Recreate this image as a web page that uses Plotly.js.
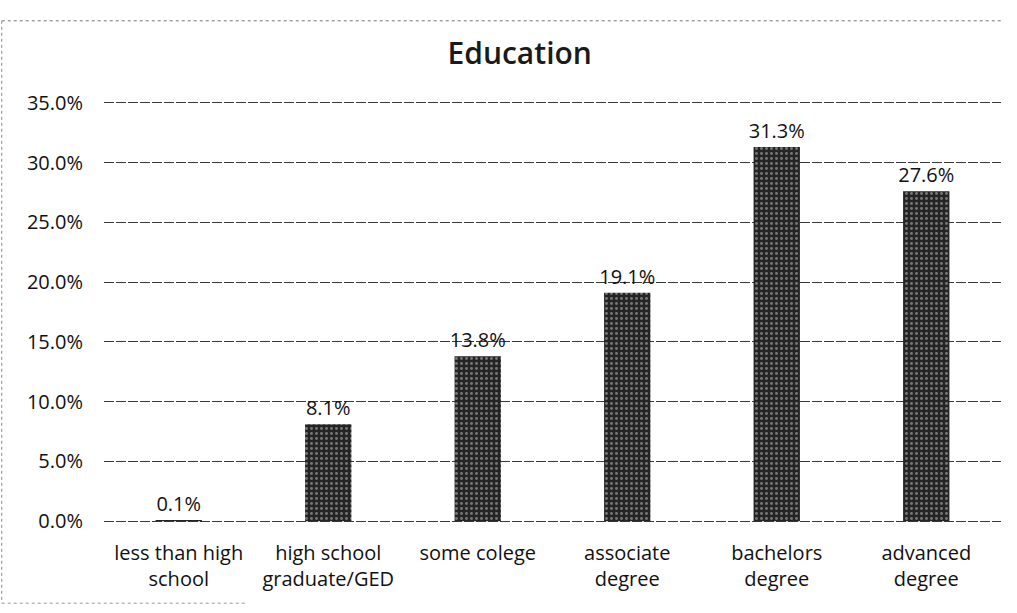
<!DOCTYPE html>
<html>
<head>
<meta charset="utf-8">
<script src="https://cdn.plot.ly/plotly-3.0.1.min.js"></script>
<style>html,body{margin:0;padding:0;background:#fff;}#chart{width:1017px;height:613px;}</style>
</head>
<body>
<div id="chart"></div>
<script>
const categories = ["less than high<br>school", "high school<br>graduate/GED", "some colege", "associate<br>degree", "bachelors<br>degree", "advanced<br>degree"];
const values = [0.1, 8.1, 13.8, 19.1, 31.3, 27.6];
const yTickValues = [0, 5, 10, 15, 20, 25, 30, 35];
const yTickLabels = ["0.0%", "5.0%", "10.0%", "15.0%", "20.0%", "25.0%", "30.0%", "35.0%"];
const chartTitle = "Education";

const FONT = "'Open Sans', 'Noto Sans', sans-serif";

const trace = {
  type: "bar",
  x: categories,
  y: values,
  width: 0.31,
  marker: {
    color: "#2a2a2a",
    line: {width: 0},
    pattern: {shape: ".", fgcolor: "#c8c8c8", bgcolor: "#242424", size: 5, solidity: 0.28, fillmode: "overlay"}
  },
  text: values.map(v => v.toFixed(1) + "%"),
  textposition: "outside",
  constraintext: "none",
  textfont: {family: FONT, size: 20, color: "#111"},
  cliponaxis: false,
  hoverinfo: "x+y"
};

const layout = {
  width: 1017,
  height: 613,
  margin: {l: 104, r: 16, t: 101, b: 90},
  paper_bgcolor: "#fff",
  plot_bgcolor: "#fff",
  showlegend: false,
  bargap: 0.69,
  title: {
    text: chartTitle,
    font: {family: FONT, size: 30, color: "#1a1a1a", weight: 600},
    x: 0.511, xanchor: "center",
    y: 0.913, yanchor: "middle"
  },
  xaxis: {
    showgrid: false,
    showline: false,
    zeroline: false,
    ticks: "",
    ticklabelstandoff: 16,
    tickfont: {family: FONT, size: 20, color: "#111"},
    tickangle: 0
  },
  yaxis: {
    range: [-0.15, 35.15],
    tickvals: yTickValues,
    ticktext: yTickLabels,
    showgrid: true,
    gridcolor: "#3a3a3a",
    gridwidth: 1,
    griddash: "10px,2px",
    zeroline: false,
    showline: false,
    ticks: "",
    ticklabelstandoff: 20,
    tickfont: {family: FONT, size: 20, color: "#111"}
  },
  shapes: [
    {type: "line", xref: "paper", yref: "paper", x0: -0.114, x1: 1.0, y0: 1.19, y1: 1.19,
     line: {color: "#777", width: 1, dash: "dot"}},
    {type: "line", xref: "paper", yref: "paper", x0: -0.114, x1: -0.114, y0: 1.19, y1: -0.19,
     line: {color: "#888", width: 1, dash: "dot"}},
    {type: "line", xref: "paper", yref: "paper", x0: -0.114, x1: 0.16, y0: -0.19, y1: -0.19,
     line: {color: "#999", width: 1, dash: "dot"}}
  ]
};

Plotly.newPlot("chart", [trace], layout, {displayModeBar: false, staticPlot: true});
</script>
</body>
</html>
